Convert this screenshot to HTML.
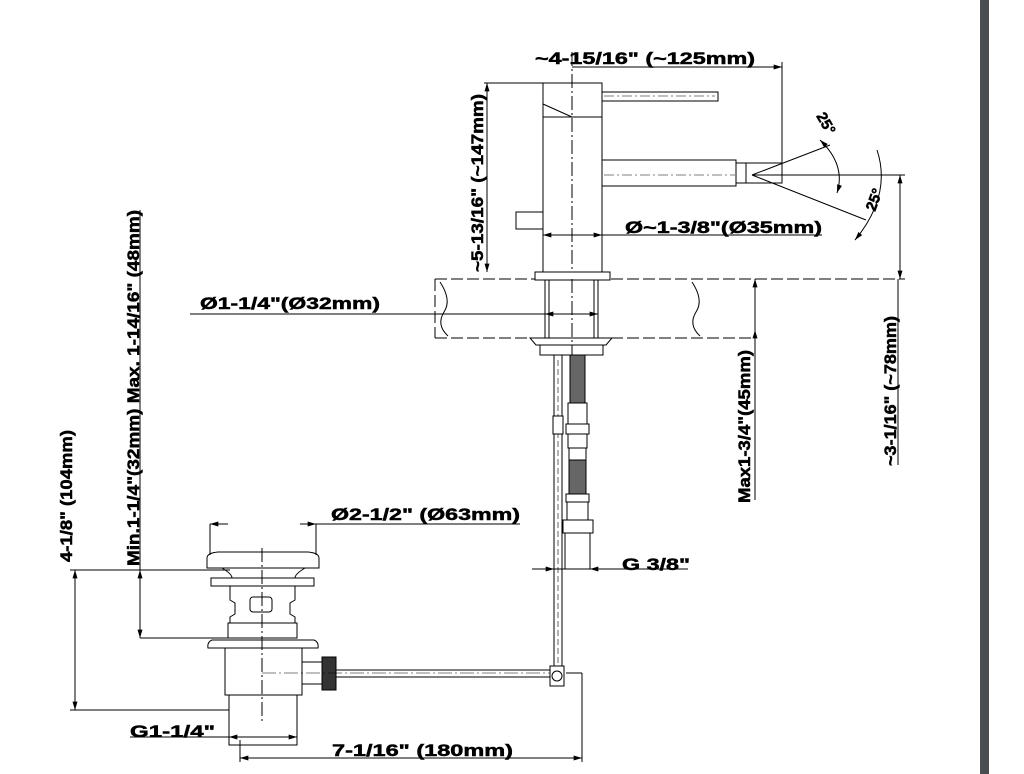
<!DOCTYPE html>
<html><head><meta charset="utf-8"><style>
body{margin:0;background:#fff;}
svg{display:block;font-family:"Liberation Sans",Arial,sans-serif;font-weight:bold;}
</style></head><body>
<svg width="1024" height="774" viewBox="0 0 1024 774" xmlns="http://www.w3.org/2000/svg">
<defs>
<marker id="a" viewBox="0 0 10 6" refX="10" refY="3" markerWidth="14" markerHeight="5" orient="auto-start-reverse" markerUnits="userSpaceOnUse"><path d="M0,0L10,3L0,6z" fill="#000"/></marker>
</defs>
<rect x="980" y="0" width="9" height="774" fill="#4a4d50"/>
<g stroke="#000" stroke-width="1" fill="none">
<line x1="572" y1="52" x2="572" y2="372" stroke-dasharray="14,3,2,3"/>
<path d="M543,83H602V117H543Z"/>
<path d="M543,83V104L572,117"/>
<path d="M543,117V272H602V117"/>
<rect x="602" y="92" width="116" height="9"/>
<line x1="604" y1="96" x2="715" y2="96" stroke-dasharray="10,3,2,3" stroke-width="0.6"/>
<rect x="602" y="160" width="134" height="26"/>
<rect x="736" y="163" width="10" height="20"/>
<rect x="746" y="163" width="36" height="20"/>
<line x1="604" y1="175" x2="735" y2="175" stroke-dasharray="10,3,2,3" stroke-width="0.6"/>
<rect x="516" y="212" width="27" height="17"/>
<line x1="752" y1="175" x2="830" y2="145"/>
<line x1="752" y1="175" x2="866" y2="220"/>
<line x1="752" y1="175" x2="905" y2="175"/>
<path d="M820,140 Q846,165 837,193" marker-end="url(#a)" marker-start="url(#a)"/>
<path d="M877,150 Q892,195 855,240" marker-end="url(#a)"/>
<line x1="572" y1="67" x2="782" y2="67" marker-end="url(#a)"/>
<line x1="782" y1="62" x2="782" y2="183"/>
<line x1="484" y1="83" x2="543" y2="83"/>
<line x1="487" y1="83" x2="487" y2="272" marker-start="url(#a)" marker-end="url(#a)"/>
<line x1="543" y1="235" x2="822" y2="235"/>
<line x1="555" y1="235" x2="543" y2="235" marker-end="url(#a)"/>
<line x1="590" y1="235" x2="602" y2="235" marker-end="url(#a)"/>
<line x1="435" y1="279" x2="905" y2="279" stroke-dasharray="12,4"/>
<line x1="435" y1="338" x2="755" y2="338" stroke-dasharray="12,4"/>
<line x1="435" y1="279" x2="435" y2="338" stroke-dasharray="12,4"/>
<path d="M440,282 Q452,300 444,312 Q436,325 448,336"/>
<path d="M692,282 Q704,300 696,312 Q688,325 700,336"/>
<rect x="535" y="272" width="75" height="8" fill="#fff"/>
<rect x="545" y="280" width="53" height="58" fill="#fff"/>
<line x1="549" y1="280" x2="549" y2="338"/><line x1="594" y1="280" x2="594" y2="338"/>
<path d="M530,338H612L606,345H536Z" fill="#fff"/>
<rect x="540" y="345" width="63" height="10" fill="#fff"/>
<line x1="572" y1="279" x2="572" y2="360" stroke-dasharray="14,3,2,3"/>
<line x1="190" y1="314" x2="598" y2="314"/>
<line x1="560" y1="314" x2="545" y2="314" marker-end="url(#a)"/>
<line x1="585" y1="314" x2="598" y2="314" marker-end="url(#a)"/>
<line x1="755" y1="279" x2="755" y2="500" marker-start="url(#a)"/>
<line x1="755" y1="338" x2="755" y2="330" marker-end="url(#a)"/>
<line x1="900" y1="175" x2="900" y2="279" marker-start="url(#a)" marker-end="url(#a)"/>
<line x1="898" y1="279" x2="898" y2="465"/>
<line x1="554" y1="355" x2="554" y2="685"/>
<line x1="562" y1="355" x2="562" y2="685"/>
<line x1="558" y1="360" x2="558" y2="680" stroke-dasharray="6,3" stroke-width="0.6"/>
<rect x="553" y="416" width="10" height="18" fill="#fff"/>
<rect x="570" y="355" width="15" height="48" fill="#666" stroke="#000"/>
<rect x="568" y="403" width="19" height="24" fill="#fff"/>
<rect x="566" y="424" width="23" height="10" fill="#fff"/>
<rect x="568" y="434" width="19" height="14" fill="#fff"/>
<rect x="569" y="448" width="17" height="12" fill="#fff"/>
<rect x="569" y="460" width="17" height="34" fill="#666"/>
<rect x="566" y="494" width="23" height="8" fill="#fff"/>
<rect x="567" y="502" width="21" height="18" fill="#fff"/>
<rect x="563" y="520" width="30" height="13" fill="#fff"/>
<line x1="565" y1="533" x2="565" y2="569"/><line x1="590" y1="533" x2="590" y2="569"/>
<line x1="532" y1="569" x2="688" y2="569"/>
<line x1="545" y1="569" x2="554" y2="569" marker-end="url(#a)"/>
<line x1="605" y1="569" x2="590" y2="569" marker-end="url(#a)"/>
<path d="M207,568V558Q207,553 218,552H308Q319,553 319,558V568Z" fill="#fff"/>
<path d="M211,578H314V586H211Z" fill="#fff"/>
<path d="M222,568Q232,574 232,578M305,568Q295,574 295,578"/>
<path d="M230,586H295V600L290,603V614L295,617V623H230V617L235,614V603L230,600Z" fill="#fff"/>
<rect x="250" y="597" width="22" height="15" rx="3"/>
<rect x="228" y="623" width="69" height="15" fill="#fff"/>
<path d="M212,640H314Q319,642 318,648H208Q207,642 212,640Z" fill="#fff"/>
<rect x="225" y="648" width="77" height="47" fill="#fff"/>
<rect x="229" y="695" width="68" height="50" fill="#fff"/>
<line x1="262" y1="548" x2="262" y2="722" stroke-dasharray="14,3,2,3"/>
<rect x="302" y="662" width="20" height="22"/>
<rect x="322" y="657" width="14" height="33" fill="#333"/>
<rect x="336" y="670" width="217" height="7"/>
<line x1="262" y1="673" x2="550" y2="673" stroke-dasharray="14,3,2,3" stroke-width="0.6"/>
<rect x="550" y="666" width="14" height="20" fill="#fff"/>
<circle cx="557" cy="676" r="5"/>
<line x1="566" y1="673" x2="582" y2="673"/>
<line x1="582" y1="673" x2="582" y2="762"/>
<line x1="210" y1="524" x2="210" y2="555"/><line x1="316" y1="524" x2="316" y2="555"/>
<line x1="228" y1="524" x2="210" y2="524" marker-end="url(#a)"/>
<line x1="300" y1="524" x2="316" y2="524" marker-end="url(#a)"/>
<line x1="316" y1="524" x2="520" y2="524"/>
<line x1="70" y1="570" x2="230" y2="570"/>
<line x1="70" y1="710" x2="229" y2="710"/>
<line x1="75" y1="570" x2="75" y2="710" marker-start="url(#a)" marker-end="url(#a)"/>
<line x1="140" y1="638" x2="228" y2="638"/>
<line x1="140" y1="210" x2="140" y2="638"/>
<line x1="140" y1="570" x2="140" y2="584" marker-start="url(#a)"/>
<line x1="140" y1="638" x2="140" y2="624" marker-start="url(#a)"/>
<line x1="130" y1="737" x2="297" y2="737"/>
<line x1="245" y1="737" x2="229" y2="737" marker-end="url(#a)"/>
<line x1="280" y1="737" x2="297" y2="737" marker-end="url(#a)"/>
<line x1="240" y1="758" x2="582" y2="758" marker-start="url(#a)" marker-end="url(#a)"/>
<line x1="240" y1="740" x2="240" y2="762"/>
</g>
<g font-size="17" fill="#000" stroke="#000" stroke-width="0.5" lengthAdjust="spacingAndGlyphs">
<text x="535" y="64" textLength="220" lengthAdjust="spacingAndGlyphs">~4-15/16" (~125mm)</text>
<text x="625" y="233" textLength="197" lengthAdjust="spacingAndGlyphs">Ø~1-3/8"(Ø35mm)</text>
<text x="200" y="309" textLength="180" lengthAdjust="spacingAndGlyphs">Ø1-1/4"(Ø32mm)</text>
<text x="331" y="520" textLength="189" lengthAdjust="spacingAndGlyphs">Ø2-1/2" (Ø63mm)</text>
<text x="622" y="570" textLength="68" lengthAdjust="spacingAndGlyphs">G 3/8"</text>
<text x="130" y="737" textLength="85" lengthAdjust="spacingAndGlyphs">G1-1/4"</text>
<text x="332" y="756" textLength="181" lengthAdjust="spacingAndGlyphs">7-1/16" (180mm)</text>
<text transform="translate(483,272) rotate(-90)" textLength="178" lengthAdjust="spacingAndGlyphs">~5-13/16" (~147mm)</text>
<text transform="translate(750,503) rotate(-90)" textLength="153" lengthAdjust="spacingAndGlyphs">Max1-3/4"(45mm)</text>
<text transform="translate(896,466) rotate(-90)" textLength="150" lengthAdjust="spacingAndGlyphs">~3-1/16" (~78mm)</text>
<text transform="translate(72,562) rotate(-90)" textLength="132" lengthAdjust="spacingAndGlyphs">4-1/8" (104mm)</text>
<text transform="translate(139,566) rotate(-90)" textLength="356" lengthAdjust="spacingAndGlyphs">Min.1-1/4"(32mm) Max. 1-14/16" (48mm)</text>
<text transform="translate(816,116) rotate(60)" font-size="15">25°</text>
<text transform="translate(875,212) rotate(-70)" font-size="15">25°</text>
</g>
</svg>
</body></html>
